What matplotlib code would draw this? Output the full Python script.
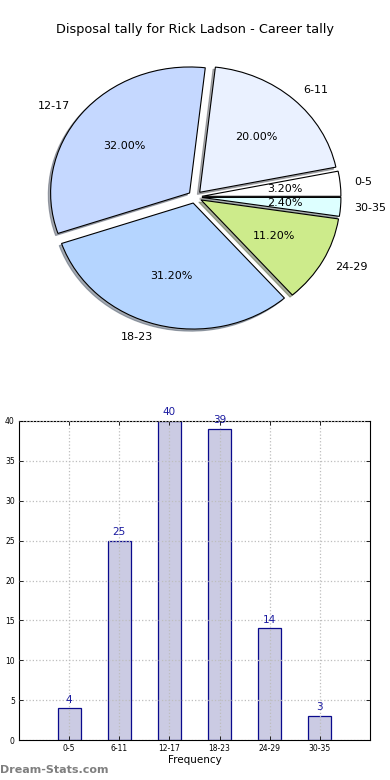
import matplotlib
matplotlib.use("Agg")
import matplotlib.pyplot as plt
import numpy as np

categories = ["0-5", "6-11", "12-17", "18-23", "24-29", "30-35"]
values = [4, 25, 40, 39, 14, 3]
pie_colors = ["#ffffff", "#eaf1ff", "#c5d8ff", "#b5d5ff", "#cdeb8b", "#ddffff"]
title = "Disposal tally for Rick Ladson - Career tally"
y_ticks = [0, 5, 10, 15, 20, 25, 30, 35, 40]

fig = plt.figure(figsize=(3.9, 7.8), dpi=100)

# Pie
ax1 = fig.add_axes([0.0, 0.5462, 1.0, 0.4026])
wedges, texts, autotexts = ax1.pie(
    values, labels=categories, colors=pie_colors, explode=[0.05] * len(values),
    autopct="%1.2f%%", shadow=dict(ox=-0.012, oy=-0.012, shade=0.6),
    startangle=0, counterclock=True,
    labeldistance=1.1, pctdistance=0.6,
    wedgeprops=dict(edgecolor="black", linewidth=0.8),
    textprops=dict(fontsize=8))
ax1.set_aspect("auto")
ax1.set_xlim(-1.403, 1.403)
ax1.set_ylim(-1.246, 1.246)
fig.text(0.5, 1 - 30 / 780, title, ha="center", va="center", fontsize=9.3)

# Bars
ax2 = fig.add_axes([19 / 390, 1 - 740 / 780, 351 / 390, 319 / 780])
x = np.arange(1, len(categories) + 1)
ax2.bar(x, values, width=0.46, color="#cbcbe3", edgecolor="#0a0a8c", linewidth=0.9, zorder=1)
for xi, v in zip(x, values):
    ax2.text(xi, v + 0.45, str(v), ha="center", va="bottom", fontsize=7.5, color="#1a1aa0", zorder=3)
ax2.set_xlim(0, 7)
ax2.set_ylim(0, 40)
ax2.set_xticks(x)
ax2.set_xticklabels(categories)
ax2.set_yticks(y_ticks)
ax2.tick_params(labelsize=5.5, direction="in", top=True, right=True, length=3, width=0.6, pad=3)
ax2.grid(True, linestyle=":", color="#bdbdbd", linewidth=0.9, zorder=2)
ax2.set_axisbelow(False)
for s in ax2.spines.values():
    s.set_linewidth(0.8)
ax2.set_xlabel("Frequency", fontsize=7.5, labelpad=1)

fig.text(0.0, 1 - 770 / 780, "Dream-Stats.com", ha="left", va="center", fontsize=8,
         color="#7f7f7f", fontweight="semibold")

fig.savefig("out.png", dpi=100)
